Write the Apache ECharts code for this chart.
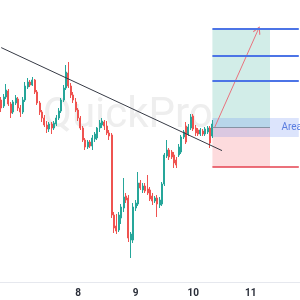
<!DOCTYPE html>
<html lang="en">

<head>
  <meta charset="UTF-8">
  <script src="https://cdn.jsdelivr.net/npm/echarts@6/dist/echarts.min.js"></script>
  <title>Setup</title>
  <style>
    html,
    body {
      margin: 0;
      background: #fff;
    }

    #chart {
      width: 300px;
      height: 300px;
    }
  </style>
</head>

<body>
  <div id="chart"></div>

  <script type="text/javascript">
    // hourly candles: [open, close, low, high]
    var candles = [
      [2032, 2024, 2020, 2035], [2026, 2035, 2024, 2038], [2035, 2042, 2033, 2048], [2041, 2028, 2026, 2043],
      [2028, 2019, 2014, 2030], [2020, 2030, 2018, 2032], [2029, 2034, 2027, 2037], [2033, 2024, 2021, 2035],
      [2024, 2020, 2015, 2027], [2020, 2032, 2018, 2035], [2032, 2046, 2030, 2050], [2045, 2050, 2043, 2054],
      [2050, 2047, 2045, 2052], [2047, 2052, 2046, 2055], [2052, 2040, 2038, 2053], [2040, 2029, 2027, 2042],
      [2029, 2020, 2017, 2031], [2020, 2014, 2010, 2022], [2014, 2007, 2005, 2017], [2007, 2003, 1999, 2011],
      [2003, 2008, 2000, 2010], [2008, 2004, 1998, 2010], [2004, 2009, 2002, 2011], [2008, 2014, 2006, 2017],
      [2014, 2021, 2012, 2024], [2021, 2032, 2019, 2034], [2032, 2044, 2030, 2047], [2044, 2060, 2042, 2067],
      [2059, 2046, 2044, 2070], [2046, 2037, 2034, 2049], [2037, 2032, 2029, 2040], [2030, 2022, 2020, 2034],
      [2022, 2014, 2011, 2024], [2014, 2004, 2002, 2016], [2004, 1992, 1990, 2006], [1992, 1985, 1982, 1994],
      [1985, 1990, 1983, 1992], [1990, 1986, 1984, 1992], [1986, 1994, 1982, 1997], [1993, 1998, 1990, 2000],
      [1994, 2004, 1992, 2005], [2004, 2009, 2000, 2012], [2007, 2011, 2004, 2014], [2010, 2006, 2002, 2012],
      [2006, 1999, 1997, 2011], [1999, 1996, 1992, 2002], [1997, 1917, 1914, 1999], [1917, 1904, 1899, 1920],
      [1906, 1901, 1898, 1918], [1902, 1917, 1900, 1920], [1914, 1925, 1908, 1928], [1924, 1935, 1920, 1954],
      [1936, 1932, 1929, 1939], [1934, 1894, 1890, 1937], [1892, 1898, 1874, 1900], [1892, 1925, 1889, 1929],
      [1924, 1929, 1921, 1932], [1928, 1949, 1926, 1960], [1949, 1944, 1942, 1952], [1942, 1946, 1939, 1949],
      [1946, 1941, 1939, 1949], [1943, 1939, 1937, 1957], [1942, 1933, 1931, 1945], [1936, 1931, 1927, 1939],
      [1931, 1934, 1929, 1936], [1934, 1928, 1915, 1937], [1927, 1932, 1924, 1935], [1928, 1948, 1926, 1950],
      [1948, 1977, 1946, 1979], [1976, 1982, 1974, 1992], [1982, 1975, 1972, 1984], [1980, 1975, 1973, 1982],
      [1977, 1969, 1964, 1980], [1972, 1967, 1964, 1975], [1977, 1985, 1975, 1988], [1980, 1995, 1978, 1997],
      [1995, 2000, 1993, 2002], [2006, 1990, 1988, 2010], [1998, 2005, 1996, 2008], [2004, 2015, 2002, 2018],
      [2016, 2003, 2001, 2018], [2004, 1999, 1996, 2007], [2002, 1998, 1996, 2004], [1998, 2002, 1996, 2004],
      [2001, 1998, 1996, 2003], [1998, 2003, 1996, 2005], [2000, 2004, 1998, 2006], [2004, 1989, 1984, 2006],
      [1996, 2008, 1994, 2012]
    ];

    var totalBars = 125;
    var dayLabels = ['8', '9', '10', '11'];
    var dayIndex = [32, 56, 80, 104];

    // trade setup drawn on the chart (bar index, price)
    var setupStart = 88;
    var setupEnd = 112;
    var lastBar = 124;
    var targets = [2103, 2076, 2051];
    var entry = 2005;
    var stop = 1965;
    var zoneTop = 2014;
    var zoneBottom = 1995;
    var zoneLabel = 'Area';
    var trendFrom = [0, 2084.4];
    var trendTo = [92, 1981.4];
    var arrowFrom = [89, 2005];
    var arrowTo = [107, 2102];

    var categories = [];
    for (var i = 0; i < totalBars; i++) {
      var k = dayIndex.indexOf(i);
      categories.push(k >= 0 ? dayLabels[k] : 'h' + i);
    }

    var chart = echarts.init(document.getElementById('chart'), null, { renderer: 'canvas' });

    function solid(color, width) {
      return { color: color, width: width, type: 'solid' };
    }

    var markLines = [
      [{ coord: trendFrom }, { coord: trendTo, lineStyle: solid('#363a45', 1) }],
      [{ coord: [setupStart, entry] }, { coord: [setupEnd, entry], lineStyle: solid('#8592a3', 1) }],
      [{ coord: [setupStart, stop] }, { coord: [lastBar, stop], lineStyle: solid('#e5424f', 1.5) }],
      [{ coord: arrowFrom }, {
        coord: arrowTo,
        symbol: 'path://M0,0 L5,9 L4,10 L0,2.5 L-4,10 L-5,9 Z',
        symbolSize: [8, 8],
        lineStyle: solid('#e8727d', 1)
      }]
    ];
    targets.forEach(function (t) {
      markLines.push([{ coord: [setupStart, t] }, { coord: [lastBar, t], lineStyle: solid('#4c74e6', 2) }]);
    });

    var option = {
      animation: false,
      grid: { left: 0, right: 0, top: 0, bottom: 18 },
      graphic: [{
        type: 'text',
        left: 43,
        top: 95,
        z: 0,
        style: { text: 'QuickPro', font: '42px Roboto', fill: '#eeeeee' }
      }],
      xAxis: {
        type: 'category',
        data: categories,
        axisLine: { lineStyle: { color: '#e6e8ee' } },
        axisTick: { show: false },
        axisLabel: {
          interval: function (idx) { return dayIndex.indexOf(idx) >= 0; },
          color: '#2a2e39',
          fontSize: 10,
          fontWeight: 'bold',
          fontFamily: 'Roboto',
          margin: 6
        },
        splitLine: { show: false }
      },
      yAxis: {
        type: 'value',
        min: 1850,
        max: 2132,
        show: false,
        splitLine: { show: false }
      },
      series: [{
        type: 'candlestick',
        data: candles,
        barWidth: '70%',
        z: 3,
        itemStyle: {
          color: '#26a69a',
          color0: '#ef5350',
          borderColor: '#26a69a',
          borderColor0: '#ef5350',
          borderWidth: 1
        },
        markArea: {
          silent: true,
          data: [
            [{ coord: [setupStart, targets[0]], itemStyle: { color: 'rgba(8,153,129,0.18)' } }, { coord: [setupEnd, entry] }],
            [{ coord: [setupStart, entry], itemStyle: { color: 'rgba(242,54,69,0.18)' } }, { coord: [setupEnd, stop] }],
            [{
              coord: [setupStart, zoneTop],
              itemStyle: { color: 'rgba(80,120,240,0.2)' },
              label: {
                show: true,
                formatter: zoneLabel,
                position: 'insideLeft',
                distance: 69,
                color: '#5b7de0',
                fontSize: 10,
                fontFamily: 'Roboto'
              }
            }, { coord: [lastBar, zoneBottom] }]
          ]
        },
        markLine: {
          silent: true,
          symbol: ['none', 'none'],
          label: { show: false },
          data: markLines
        }
      }]
    };

    chart.setOption(option);
  </script>
</body>

</html>
